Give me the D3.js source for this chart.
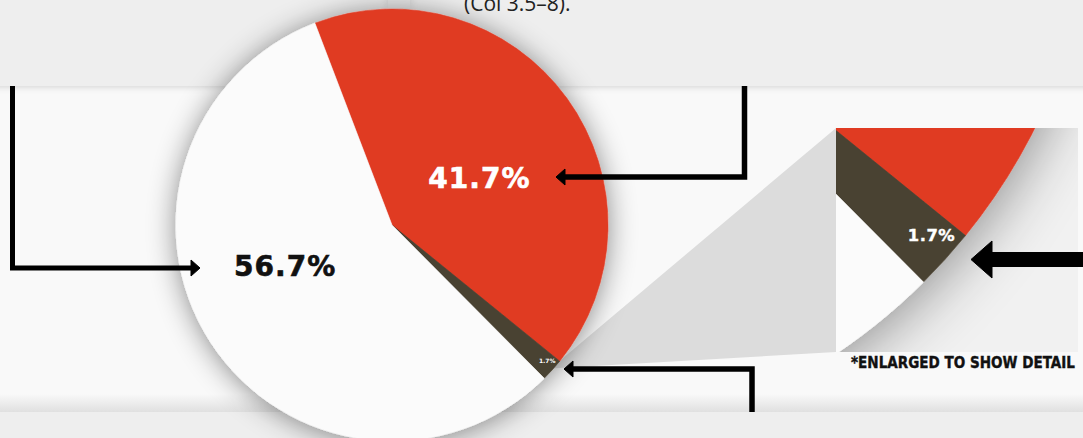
<!DOCTYPE html>
<html><head><meta charset="utf-8">
<script src="https://cdn.jsdelivr.net/npm/d3@7"></script>
<style>html,body{margin:0;padding:0;background:#f9f9f9;overflow:hidden}</style>
</head><body><svg id="c" width="1083" height="438"></svg>
<script>
// ---------- data ----------
const categories = ["Segment A", "Segment B", "Segment C"];
const values = [41.7, 1.7, 56.7];
const valueLabels = ["41.7%", "1.7%", "56.7%"];
const headerText = "(Col 3.5\u20138).";
const noteText = "*ENLARGED TO SHOW DETAIL";

// ---------- layout ----------
const W = 1083, H = 438;
const palette = ["#e03a24", "#4a4231", "#fbfbfb"];
const labelColors = ["#ffffff", "#ffffff", "#111111"];
const startDeg = -20.9;
const main = {cx: 392, cy: 225, r: 216};
const zoom = {cx: 509, cy: -135, r: 588};
const panel = {x: 836, y: 128, w: 242, h: 224};
// label placement (fraction of radius, angle in degrees clockwise from 12 o'clock)
const labelPolar = [[0.46, 61.6], [0.955, 131.2], [0.53, -111]];
const labelSize = [28, 6, 28];

const svg = d3.select("#c");
const defs = svg.append("defs");
function shadow(id, sd, op, dy) {
  const f = defs.append("filter").attr("id", id)
    .attr("x", "-50%").attr("y", "-50%").attr("width", "200%").attr("height", "200%");
  f.append("feDropShadow").attr("dx", 0).attr("dy", dy || 0).attr("stdDeviation", sd)
    .attr("flood-color", "#000").attr("flood-opacity", op);
}
shadow("pieShadow", 14, 0.45, 2);
shadow("bigShadow", 32, 0.45, 4);
shadow("bandShadow", 3, 0.16, 1);
shadow("tinyShadow", 4, 0.12, 0);

// ---------- background ----------
svg.append("rect").attr("width", W).attr("height", H).attr("fill", "#f9f9f9");
const bg = defs.append("linearGradient").attr("id", "botGrad")
  .attr("x1", 0).attr("y1", 0).attr("x2", 0).attr("y2", 1);
bg.append("stop").attr("offset", 0).attr("stop-color", "#f9f9f9");
bg.append("stop").attr("offset", 1).attr("stop-color", "#e0e0e0");
svg.append("rect").attr("x", 0).attr("y", 394).attr("width", W).attr("height", 18).attr("fill", "url(#botGrad)");
svg.append("rect").attr("x", 0).attr("y", 412).attr("width", W).attr("height", 30).attr("fill", "#eeeeee");
svg.append("rect").attr("x", -20).attr("y", -20).attr("width", W + 40).attr("height", 106)
  .attr("fill", "#eeeeee").attr("filter", "url(#bandShadow)");
svg.append("rect").attr("x", 388).attr("y", -10).attr("width", 22).attr("height", 18)
  .attr("fill", "#e9e9e9").attr("filter", "url(#tinyShadow)");

// ---------- pie ----------
const data = categories.map((c, i) => ({category: c, value: values[i], label: valueLabels[i], i}));
const color = d3.scaleOrdinal().domain(categories).range(palette);
const a0 = startDeg * Math.PI / 180;
const pie = d3.pie().value(d => d.value).sort(null).startAngle(a0).endAngle(a0 + 2 * Math.PI);
const arcs = pie(data);
const polar = (r, deg) => [r * Math.sin(deg * Math.PI / 180), -r * Math.cos(deg * Math.PI / 180)];

// connector wedge from small slice to zoom panel
const small = arcs[1];
const midA = (small.startAngle + small.endAngle) / 2;
const apex = [main.cx + main.r * 0.99 * Math.sin(midA), main.cy - main.r * 0.99 * Math.cos(midA)];
svg.append("polygon")
  .attr("points", [apex, [panel.x, panel.y], [panel.x, panel.y + panel.h]].map(p => p.join(",")).join(" "))
  .attr("fill", "#dcdcdc");

function drawPie(parent, geo, filterId, showIdx) {
  const g = parent.append("g").attr("transform", `translate(${geo.cx},${geo.cy})`);
  const arc = d3.arc().innerRadius(0).outerRadius(geo.r);
  const sl = g.append("g").attr("filter", `url(#${filterId})`);
  sl.selectAll("path").data(arcs).join("path")
    .attr("d", arc).attr("fill", d => color(d.data.category))
    .attr("stroke", d => color(d.data.category)).attr("stroke-width", 0.6);
  g.selectAll("text").data(arcs.filter(d => showIdx.includes(d.data.i))).join("text")
    .attr("transform", d => {
      const [f, deg] = labelPolar[d.data.i];
      const p = polar(geo.r * f, deg);
      return `translate(${p[0]},${p[1]})`;
    })
    .attr("text-anchor", "middle").attr("dy", "0.36em")
    .attr("font-family", "'DejaVu Sans', sans-serif").attr("font-weight", "bold")
    .attr("font-size", d => labelSize[d.data.i] * geo.r / main.r)
    .attr("letter-spacing", d => d.data.i === 1 ? 0 : 1)
    .attr("fill", d => labelColors[d.data.i])
    .attr("stroke", d => labelColors[d.data.i]).attr("stroke-width", d => d.data.i === 1 ? 0 : 0.6)
    .text(d => d.data.label);
  return g;
}

// zoom panel
defs.append("clipPath").attr("id", "panelClip").append("rect")
  .attr("x", panel.x).attr("y", panel.y).attr("width", panel.w).attr("height", panel.h);
const pg = svg.append("g").attr("clip-path", "url(#panelClip)");
pg.append("rect").attr("x", panel.x).attr("y", panel.y).attr("width", panel.w).attr("height", panel.h).attr("fill", "#f1f1f1");
const zg = drawPie(pg, zoom, "bigShadow", [1]);
zg.select("text").attr("dy", "0.38em").attr("letter-spacing", 0.5).attr("stroke-width", 0.4);

// main pie
drawPie(svg, main, "pieShadow", [0, 1, 2]);

// header text
svg.append("text").attr("x", 464).attr("y", 11)
  .attr("font-family", "'Open Sans', sans-serif").attr("font-size", 21).attr("fill", "#222")
  .text(headerText);

// note
svg.append("text").attr("x", 851).attr("y", 368)
  .attr("font-family", "'DejaVu Sans', sans-serif").attr("font-weight", "bold").attr("font-size", 15)
  .attr("textLength", 224).attr("lengthAdjust", "spacingAndGlyphs").attr("fill", "#111")
  .attr("stroke", "#111").attr("stroke-width", 0.4)
  .text(noteText);

// ---------- arrows ----------
function arrow(pts, tip, headLen, headW, sw) {
  svg.append("polyline").attr("points", pts.map(p => p.join(",")).join(" "))
    .attr("fill", "none").attr("stroke", "#000").attr("stroke-width", sw)
    .attr("stroke-linejoin", "miter").attr("stroke-linecap", "butt");
  const last = pts[pts.length - 1];
  const dir = Math.sign(tip[0] - last[0]);
  const bx = tip[0] - dir * headLen;
  svg.append("polygon")
    .attr("points", [[tip[0], tip[1]], [bx, tip[1] - headW / 2], [bx, tip[1] + headW / 2]].map(p => p.join(",")).join(" "))
    .attr("fill", "#000").attr("stroke", "#000").attr("stroke-width", 1).attr("stroke-linejoin", "round");
}
arrow([[12.5, 86], [12.5, 268], [193, 268]], [200, 268], 9, 16, 5);
arrow([[744.5, 86], [744.5, 177], [564, 177]], [556, 177], 9, 16, 5.5);
arrow([[752, 412], [752, 369], [572, 369]], [564, 369], 9, 16, 5.5);
arrow([[1083, 259.5], [990, 259.5]], [971, 259.5], 21, 37, 15);
</script></body></html>
